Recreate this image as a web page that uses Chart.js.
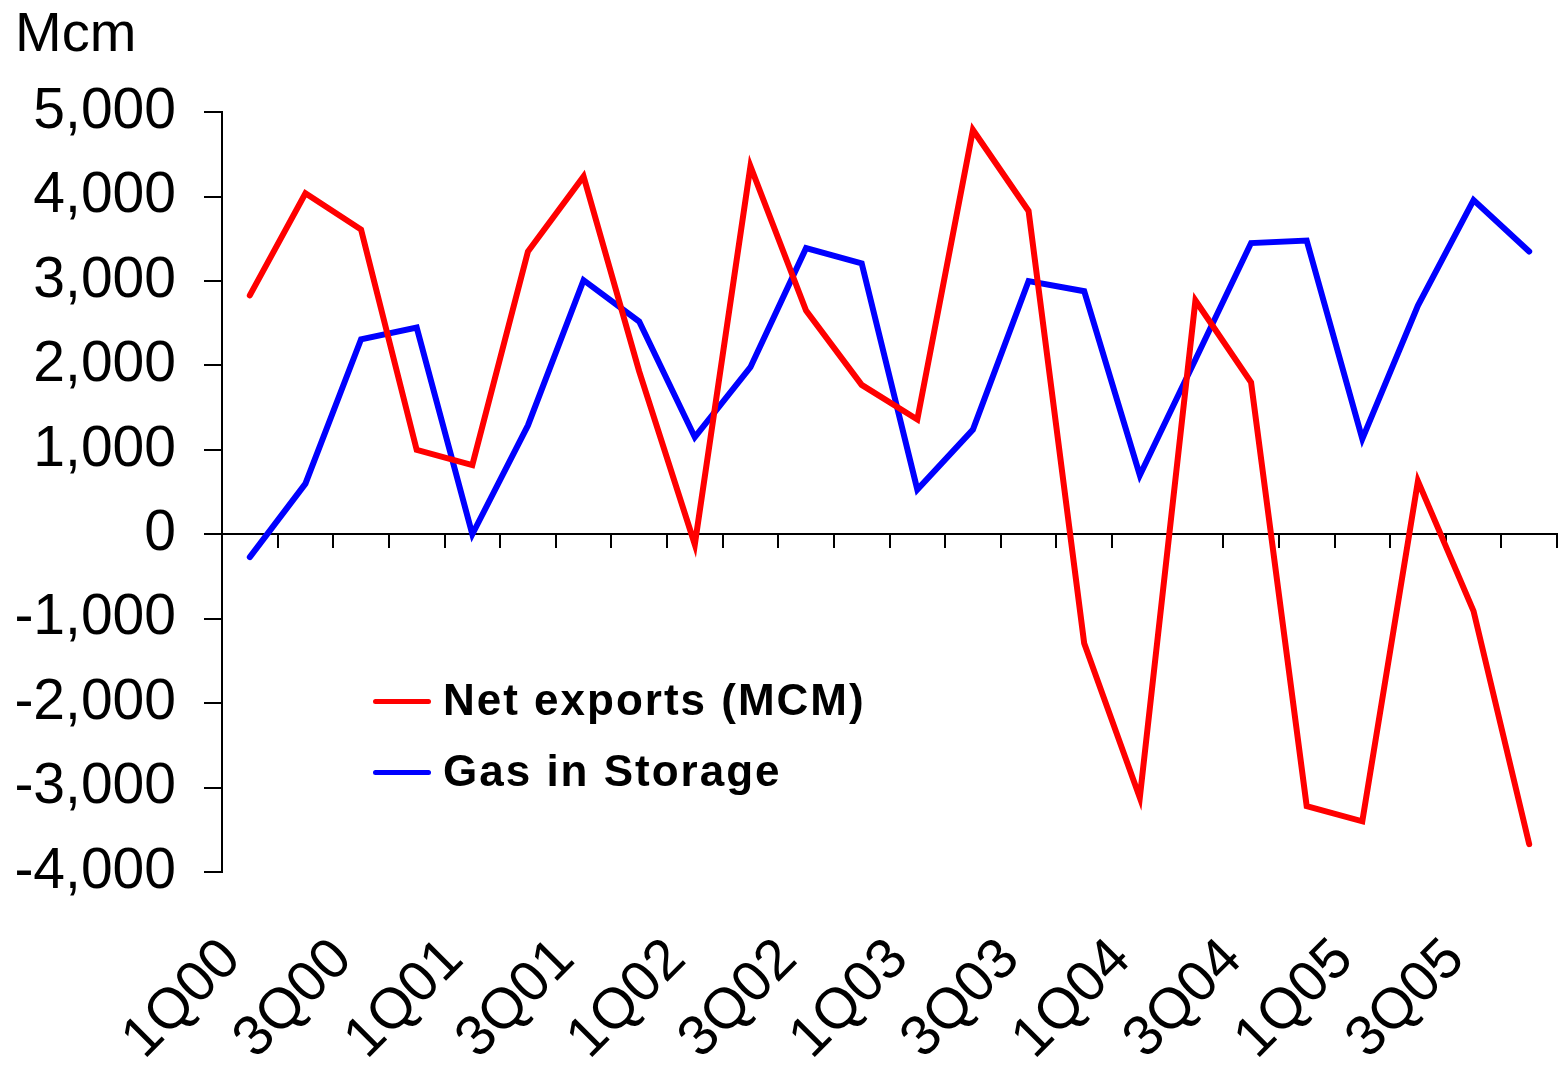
<!DOCTYPE html>
<html>
<head>
<meta charset="utf-8">
<script src="https://cdn.jsdelivr.net/npm/chart.js@4"></script>
<style>
  body { margin: 0; background: #fff; }
  #wrap { position: relative; width: 1560px; height: 1072px; }
  .key { position: absolute; left: 373px; height: 50px; line-height: 50px;
         font-family: "Liberation Sans", Arial, sans-serif; font-weight: bold;
         font-size: 44px; letter-spacing: 2px; color: #000; white-space: nowrap; }
  .key span { display: inline-block; width: 58px; height: 5px; border-radius: 3px;
              vertical-align: middle; margin-right: 12px; position: relative; top: -2px; }
</style>
</head>
<body>
<div id="wrap">
  <canvas id="gasChart" width="1560" height="1072"></canvas>
  <div class="key" style="top:675px"><span style="background:#ff0000"></span>Net exports (MCM)</div>
  <div class="key" style="top:746px"><span style="background:#0000ff"></span>Gas in Storage</div>
</div>
<script>
var quarters = ['1Q00','2Q00','3Q00','4Q00','1Q01','2Q01','3Q01','4Q01',
                '1Q02','2Q02','3Q02','4Q02','1Q03','2Q03','3Q03','4Q03',
                '1Q04','2Q04','3Q04','4Q04','1Q05','2Q05','3Q05','4Q05'];
var netExports = [2830, 4040, 3610, 1000, 820, 3350, 4240, 1930,
                  -120, 4360, 2650, 1770, 1360, 4790, 3830, -1290,
                  -3120, 2770, 1800, -3220, -3400, 630, -910, -3670];
var gasStorage = [-270, 600, 2310, 2450, 0, 1290, 3010, 2520,
                  1150, 1980, 3390, 3210, 530, 1240, 3000, 2880,
                  700, 2070, 3450, 3480, 1130, 2710, 3960, 3350];
var yMin = -4000, yMax = 5000, yStep = 1000;

var font = 'Liberation Sans, Arial, sans-serif';
var ctx = document.getElementById('gasChart');

// rotated labels make chart.js reserve room at the sides, we don't want it
function noSidePad(s) {
  s.paddingLeft = 0;
  s.paddingRight = 0;
}

new Chart(ctx, {
  type: 'line',
  data: {
    labels: quarters,
    datasets: [{
      label: 'Net exports (MCM)',
      data: netExports,
      borderColor: '#ff0000',
      borderWidth: 6,
      borderCapStyle: 'round',
      pointRadius: 0,
      tension: 0,
      xAxisID: 'x',
      yAxisID: 'y'
    }, {
      label: 'Gas in Storage',
      data: gasStorage,
      borderColor: '#0000ff',
      borderWidth: 6,
      borderCapStyle: 'round',
      pointRadius: 0,
      tension: 0,
      xAxisID: 'x',
      yAxisID: 'y'
    }]
  },
  options: {
    responsive: false,
    devicePixelRatio: 1,
    animation: false,
    layout: { padding: { left: 15, right: 3, top: 0, bottom: 0 } },
    plugins: {
      legend: { display: false },
      tooltip: { enabled: false },
      title: {
        display: true,
        text: 'Mcm',
        align: 'start',
        color: '#000',
        font: { family: font, size: 56, weight: 'normal' },
        padding: { top: 2, bottom: 43 }
      }
    },
    scales: {
      x: {
        type: 'category',
        position: 'bottom',
        offset: true,
        border: { display: false },
        grid: { display: false, drawTicks: false },
        ticks: {
          autoSkip: false,
          maxRotation: 45,
          minRotation: 45,
          padding: 54,
          labelOffset: -18,
          color: '#000',
          font: { family: font, size: 57 },
          callback: function (value, index) {
            return index % 2 === 0 ? this.getLabelForValue(value) : '';
          }
        },
        afterFit: function (s) { s.height = 200; noSidePad(s); }
      },
      x0: {
        type: 'category',
        position: { y: 0 },
        offset: true,
        border: { display: true, color: '#000', width: 2 },
        grid: { offset: true, drawOnChartArea: false, drawTicks: true,
                tickLength: 13, color: '#000', lineWidth: 2 },
        ticks: { display: false },
        afterFit: noSidePad
      },
      y: {
        min: yMin,
        max: yMax,
        border: { display: true, color: '#000', width: 2 },
        grid: { drawOnChartArea: false, tickLength: 18, color: '#000', lineWidth: 2 },
        ticks: {
          stepSize: yStep,
          padding: 28,
          color: '#000',
          font: { family: font, size: 57 },
          callback: function (v) { return v.toLocaleString('en-US'); }
        },
        afterFit: function (s) { s.width = 207; }
      }
    }
  }
});
</script>
</body>
</html>
